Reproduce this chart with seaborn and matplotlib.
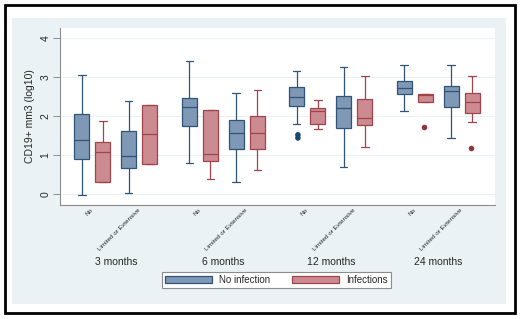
import matplotlib
matplotlib.use("Agg")
import matplotlib.pyplot as plt
import seaborn as sns
import pandas as pd
from matplotlib.patches import Rectangle, Patch
from matplotlib.transforms import blended_transform_factory

months = ["3 months", "6 months", "12 months", "24 months"]
extent = ["No", "Limited or Extensive"]
groups = ["No infection", "Infections"]

# box summaries (log10 CD19+ /mm3)
# order: 3m No, 3m Lim, 6m No, 6m Lim, 12m No, 12m Lim, 24m No, 24m Lim
noinf_low = [-0.03, 0.02, 0.79, 0.31, 1.79, 0.70, 2.12, 1.45]
noinf_q1 = [0.91, 0.67, 1.75, 1.15, 2.26, 1.69, 2.56, 2.24]
noinf_med = [1.38, 0.97, 2.23, 1.57, 2.50, 2.22, 2.71, 2.64]
noinf_q3 = [2.05, 1.61, 2.46, 1.91, 2.74, 2.51, 2.91, 2.78]
noinf_high = [3.05, 2.40, 3.42, 2.59, 3.16, 3.26, 3.31, 3.30]

inf_low = [0.31, 0.78, 0.39, 0.61, 1.67, 1.20, 2.37, 1.85]
inf_q1 = [0.31, 0.78, 0.85, 1.16, 1.81, 1.77, 2.37, 2.07]
inf_med = [1.09, 1.53, 1.04, 1.56, 2.12, 1.96, 2.54, 2.37]
inf_q3 = [1.34, 2.29, 2.15, 2.00, 2.20, 2.45, 2.57, 2.58]
inf_high = [1.88, 2.29, 2.15, 2.67, 2.42, 3.03, 2.57, 3.03]

# outside values
out_month = ["12 months", "12 months", "24 months", "24 months"]
out_extent = ["No", "No", "No", "Limited or Extensive"]
out_group = ["No infection", "No infection", "Infections", "Infections"]
out_value = [1.52, 1.44, 1.73, 1.19]

fills = {"No infection": "#7E98B6", "Infections": "#CC8B91"}
edges = {"No infection": "#2F5478", "Infections": "#A0444B"}
darks = {"No infection": "#1A476F", "Infections": "#90353B"}

month_step = 2.29  # gap between month blocks, in units of category spacing


def pos(m, e):
    return months.index(m) * month_step + extent.index(e)


rows = []
stats = {"No infection": [noinf_low, noinf_q1, noinf_med, noinf_q3, noinf_high],
         "Infections": [inf_low, inf_q1, inf_med, inf_q3, inf_high]}
for g in groups:
    i = 0
    for m in months:
        for e in extent:
            for s in stats[g]:
                rows.append({"pos": pos(m, e), "group": g, "value": s[i]})
            i += 1
df = pd.DataFrame(rows)

out = pd.DataFrame({"pos": [pos(m, e) for m, e in zip(out_month, out_extent)],
                    "group": out_group, "value": out_value})

sns.set_theme(style="white")
plt.rcParams['font.family'] = ['Liberation Sans', 'DejaVu Sans']

fig = plt.figure(figsize=(5.2, 3.19), dpi=100)
fig.patch.set_facecolor("white")
fig.patches.append(Rectangle((12 / 520, 1 - 304 / 319), 494 / 520, 286 / 319,
                             transform=fig.transFigure, fc="#EAF2F5", ec="none", zorder=-2))
fig.patches.append(Rectangle((5 / 520, 1 - 313 / 319), 510 / 520, 308 / 319,
                             transform=fig.transFigure, fill=False, ec="black", lw=2, zorder=-1))

ax = fig.add_axes([60 / 520, 1 - 205 / 319, 435 / 520, 177 / 319])
ax.set_facecolor("white")

for g in groups:
    sns.boxplot(data=df[df["group"] == g], x="pos", y="value", hue="group",
                hue_order=groups, palette=fills, native_scale=True, dodge=True,
                width=0.9, gap=0.29, whis=(0, 100), saturation=1,
                linecolor=edges[g], linewidth=0.9, showfliers=False,
                legend=False, ax=ax)

sns.stripplot(data=out, x="pos", y="value", hue="group", hue_order=groups,
              palette=darks, native_scale=True, dodge=True, jitter=False,
              size=4, linewidth=0, legend=False, ax=ax)

ax.set_ylim(-0.28, 4.26)
ax.set_xlim(-0.69, 8.58)
ax.set_yticks([0, 1, 2, 3, 4])
ax.yaxis.grid(True, color="#E9EFF2", lw=0.7)
ax.set_axisbelow(True)
ax.tick_params(axis="y", labelrotation=90, labelsize=7.5, length=5, width=0.7,
               color="#8c8c8c", pad=2, left=True)
for lab in ax.get_yticklabels():
    lab.set_va("center")

xt = [pos(m, e) for m in months for e in extent]
ax.set_xticks(xt)
ax.set_xticklabels(extent * len(months), rotation=45, ha="right", va="center",
                   rotation_mode="anchor", fontsize=4.6)
ax.tick_params(axis="x", length=0, pad=3)

ax.set_xlabel("")
ax.set_ylabel("CD19+ mm3 (log10)", fontsize=7.5, labelpad=4)
for side in ["top", "right"]:
    ax.spines[side].set_visible(False)
for side in ["left", "bottom"]:
    ax.spines[side].set_color("#8c8c8c")
    ax.spines[side].set_linewidth(0.8)

tr = blended_transform_factory(ax.transData, fig.transFigure)
for m in months:
    ax.text(pos(m, extent[0]) + 0.5, 1 - 262 / 319, m, transform=tr,
            ha="center", va="center", fontsize=7.5)

handles = [Patch(facecolor=fills[g], edgecolor=edges[g], lw=0.9) for g in groups]
leg = fig.legend(handles, groups, loc="center", bbox_to_anchor=(276.5 / 520, 1 - 280 / 319),
                 ncol=2, fontsize=7, handlelength=4.8, handleheight=0.8,
                 handletextpad=0.8, columnspacing=2.2, borderpad=0.35,
                 fancybox=False, framealpha=1)
leg.get_frame().set_edgecolor("#8c8c8c")
leg.get_frame().set_linewidth(0.8)

fig.savefig("out.png", dpi=100)
